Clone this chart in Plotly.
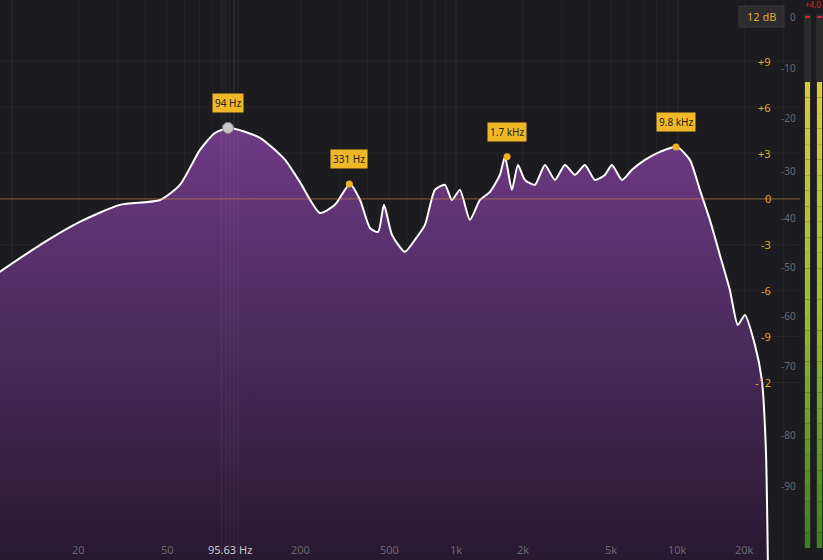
import plotly.graph_objects as go
import numpy as np

freq = [8.8,13.4,20.2,30.6,46.4,57.1,70.3,82.1,95.9,131,170,198,244,285,333,370,410,446,474,515,589,653,725,804,892,959,1042,1156,1283,1423,1578,1663,1787,1902,2046,2269,2518,2793,3098,3436,3811,4227,4689,5045,5596,6207,7103,8299,9890,11320,12560,13930,15450,17140,18620,20040,22230,23880,24910,25420]
db = [-4.77,-3.0,-1.5,-0.39,-0.07,0.92,3.2,4.31,4.64,3.99,2.55,1.11,-0.92,-0.39,0.98,-0.07,-1.9,-2.16,-0.39,-2.35,-3.46,-2.68,-1.7,0.59,0.92,-0.07,0.59,-1.37,-0.07,0.46,1.57,2.75,0.59,2.22,1.24,0.92,2.22,1.24,2.22,1.57,2.22,1.24,1.57,2.22,1.24,1.9,2.55,3.07,3.4,2.55,0.59,-1.37,-3.66,-5.95,-8.24,-7.58,-9.54,-11.83,-16.4,-23.6]
peak_freq = [331, 1700, 9800]
peak_db = [0.98, 2.75, 3.4]
peak_labels = ["331 Hz", "1.7 kHz", "9.8 kHz"]
main_freq, main_db, main_label = 94, 4.64, "94 Hz"
xtick_vals = [20, 50, 200, 500, 1000, 2000, 5000, 10000, 20000]
xtick_text = ["20", "50", "200", "500", "1k", "2k", "5k", "10k", "20k"]
cursor_freq, cursor_text = 95.63, "95.63 Hz"
eq_ticks = [9, 6, 3, 0, -3, -6, -9, -12]
spec_ticks = [0, -10, -20, -30, -40, -50, -60, -70, -80, -90]
spec_ypx = [17, 68, 118, 171, 218, 267, 316, 366, 435, 486]

YTOP, YBOT = 13.0, -23.6
def px2db(p):
    return YTOP - p / 560 * (YTOP - YBOT)

fig = go.Figure()
fig.add_trace(go.Scatter(x=[freq[0], freq[-1]], y=[YBOT, YBOT], mode="lines",
                         line=dict(width=0), showlegend=False, hoverinfo="skip"))
fig.add_trace(go.Scatter(x=freq, y=db, mode="lines", line=dict(color="white", width=2, shape="spline", smoothing=0.6),
                         fill="tonexty",
                         fillgradient=dict(type="vertical", colorscale=[[0, "#281830"], [0.5, "#4a2a5c"], [1, "#6e3a84"]]),
                         showlegend=False, hoverinfo="skip"))
fig.add_trace(go.Scatter(x=peak_freq, y=peak_db, mode="markers",
                         marker=dict(color="#f0b020", size=7), showlegend=False))
fig.add_trace(go.Scatter(x=[main_freq], y=[main_db], mode="markers",
                         marker=dict(color="#c8c8c8", size=11, line=dict(color="#888", width=1)), showlegend=False))

shapes = []
for dec in [10, 100, 1000, 10000]:
    for m in range(1, 10):
        f = dec * m
        if 9 < f < 35000:
            shapes.append(dict(type="line", xref="x", yref="paper", x0=f, x1=f, y0=0, y1=1,
                               line=dict(color="rgba(255,255,255,0.045)" if m != 1 else "rgba(255,255,255,0.08)", width=1), layer="below"))
for f in [88, 92, cursor_freq, 100, 104]:
    shapes.append(dict(type="line", xref="x", yref="paper", x0=f, x1=f, y0=0, y1=1,
                       line=dict(color="rgba(255,255,255,0.06)", width=1), layer="above"))
for t in eq_ticks:
    if t != 0:
        shapes.append(dict(type="line", xref="paper", yref="y", x0=0, x1=800/823, y0=t, y1=t,
                           line=dict(color="rgba(255,255,255,0.05)", width=1), layer="below"))
shapes.append(dict(type="line", xref="paper", yref="y", x0=0, x1=800/823, y0=0, y1=0,
                   line=dict(color="rgba(210,140,60,0.6)", width=1), layer="above"))
for x0 in [804, 816]:
    shapes.append(dict(type="rect", xref="paper", yref="paper", x0=x0/823, x1=(x0+7)/823, y0=1-548/560, y1=1-14/560,
                       fillcolor="#2a2a2a", line=dict(width=0)))
    n = 30
    cols = [(220, 200, 60), (150, 190, 40), (60, 130, 30)]
    for i in range(n):
        t = i / (n - 1)
        if t < 0.5:
            c = [int(cols[0][k] + (cols[1][k]-cols[0][k]) * t * 2) for k in range(3)]
        else:
            c = [int(cols[1][k] + (cols[2][k]-cols[1][k]) * (t-0.5) * 2) for k in range(3)]
        ya = 82 + (548-82) * i / n
        yb = 82 + (548-82) * (i+1) / n
        shapes.append(dict(type="rect", xref="paper", yref="paper", x0=(x0+1)/823, x1=(x0+6)/823,
                           y0=1-yb/560, y1=1-ya/560, fillcolor="rgb(%d,%d,%d)" % tuple(c), line=dict(width=0)))
    shapes.append(dict(type="line", xref="paper", yref="paper", x0=(x0+1)/823, x1=(x0+6)/823,
                       y0=1-17/560, y1=1-17/560, line=dict(color="#e02020", width=2)))
shapes.append(dict(type="rect", xref="paper", yref="paper", x0=739/823, x1=784/823, y0=1-27/560, y1=1-6/560,
                   fillcolor="#2c2b30", line=dict(color="#3a3940", width=1), layer="below"))

ann = []
for v, t in zip(xtick_vals, xtick_text):
    ann.append(dict(x=np.log10(v), y=px2db(549), xref="x", yref="y", text=t, showarrow=False,
                    font=dict(color="#6a6870", size=11)))
ann.append(dict(x=np.log10(cursor_freq), y=px2db(549), xref="x", yref="y", text=cursor_text, showarrow=False,
                font=dict(color="#c8c8c8", size=11)))
for t in eq_ticks:
    s = "+%d" % t if t > 0 else str(t)
    ann.append(dict(x=773/823, y=t, xref="paper", yref="y", text=s, showarrow=False, xanchor="right",
                    font=dict(color="#e0a830", size=11)))
for t, p in zip(spec_ticks, spec_ypx):
    ann.append(dict(x=798/823, y=px2db(p), xref="paper", yref="y", text=str(t), showarrow=False, xanchor="right",
                    font=dict(color="#6a6870", size=10)))
ann.append(dict(x=761.5/823, y=px2db(16), xref="paper", yref="y", text="12 dB", showarrow=False, xanchor="center",
                font=dict(color="#e0a830", size=11)))
ann.append(dict(x=1, y=px2db(4), xref="paper", yref="y", text="+4.0", showarrow=False, xanchor="right",
                font=dict(color="#e02020", size=8)))
for f, d, t in list(zip(peak_freq, peak_db, peak_labels)) + [(main_freq, main_db, main_label)]:
    ann.append(dict(x=np.log10(f), y=d, xref="x", yref="y", text=t, showarrow=False, yshift=25,
                    bgcolor="#f0b828", borderpad=2, font=dict(color="#222", size=10)))

fig.update_layout(width=823, height=560, margin=dict(l=0, r=0, t=0, b=0),
                  paper_bgcolor="#1c1b1f", plot_bgcolor="#1c1b1f",
                  xaxis=dict(type="log", range=[0.946, 4.55], domain=[0, 800/823], showgrid=False,
                             showticklabels=False, zeroline=False),
                  yaxis=dict(range=[YBOT, YTOP], showgrid=False, showticklabels=False, zeroline=False),
                  shapes=shapes, annotations=ann, font=dict(family="Noto Sans"))
fig.write_html("out.html", config={"displayModeBar": False},
               post_script="document.body.style.margin='0';document.body.style.overflow='hidden';document.body.style.background='#1c1b1f';")
